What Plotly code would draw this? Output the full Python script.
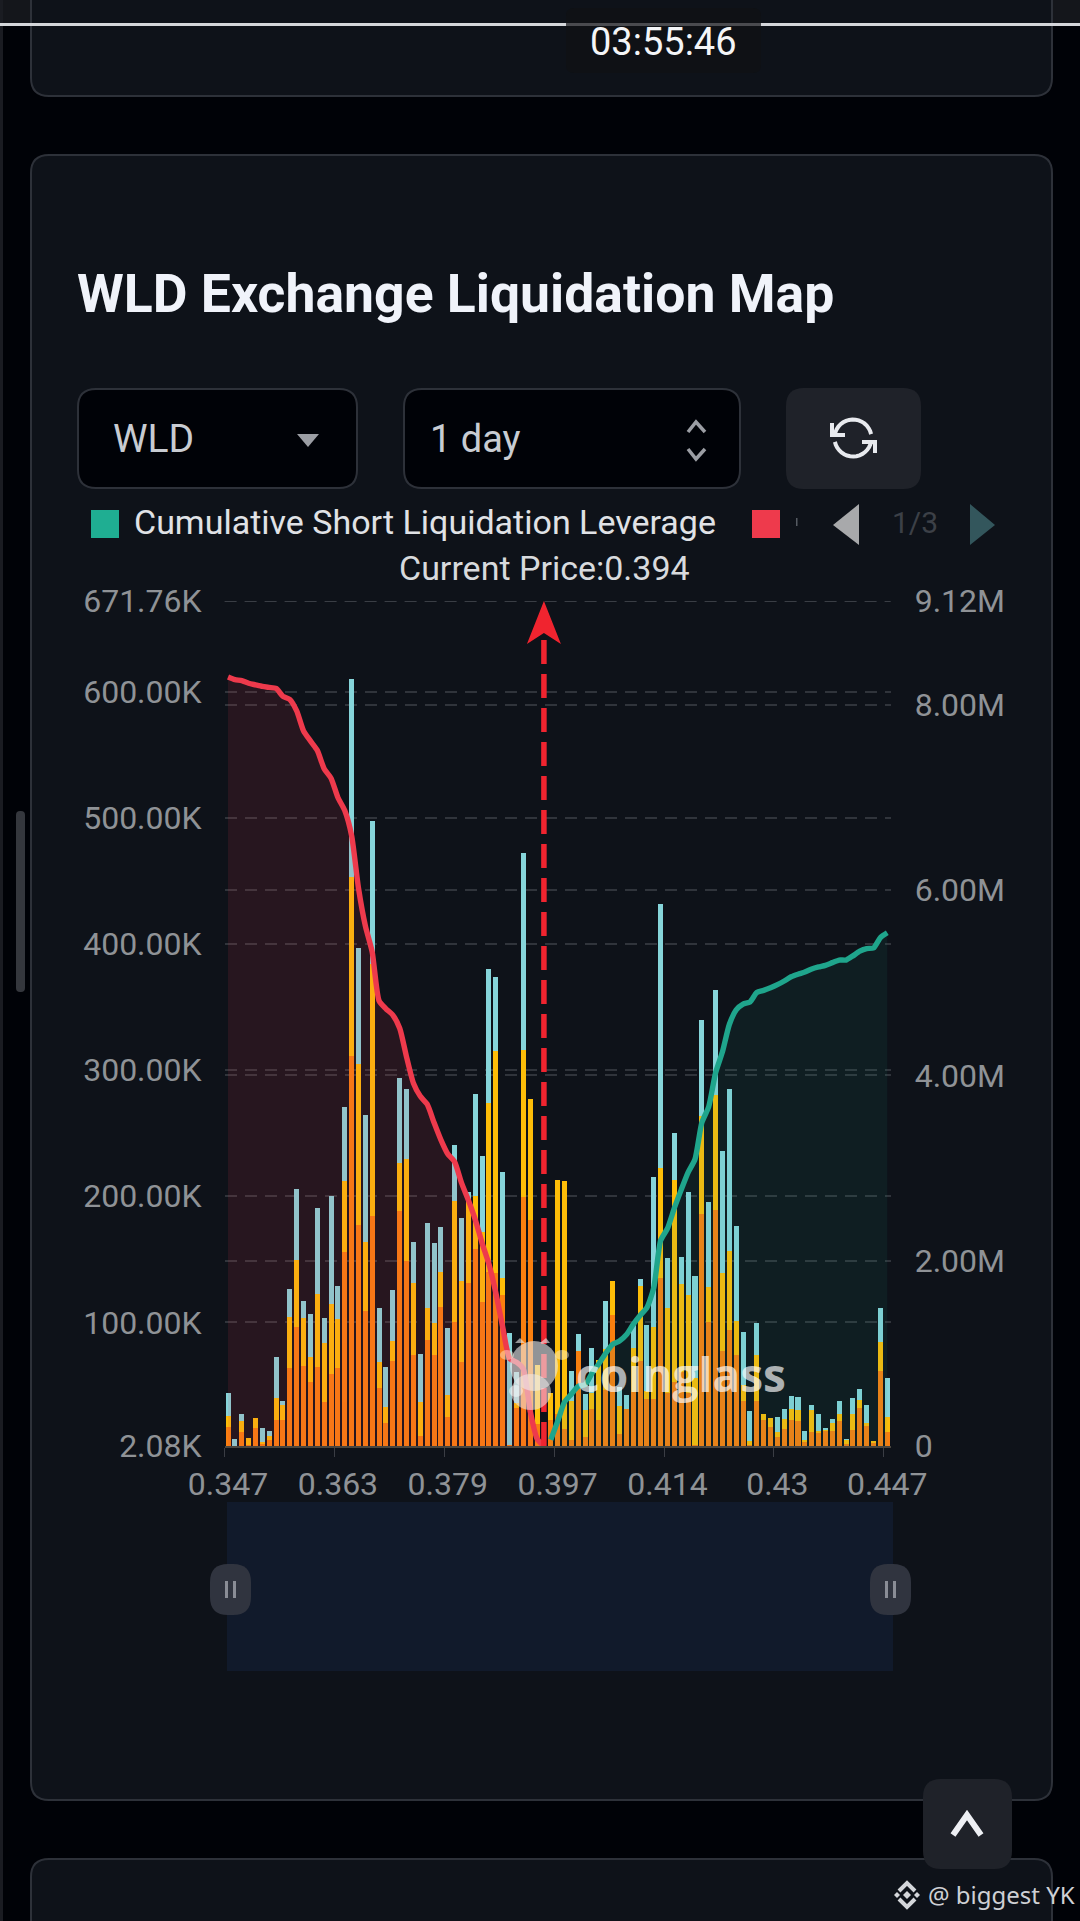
"""WLD Exchange Liquidation Map - phone screenshot rebuilt with plotly."""
import math

import plotly.graph_objects as go

W, H = 1080, 1921

# price bins (bottom axis)
prices = [
    "0.347", "0.348", "0.349", "0.35", "0.351", "0.352", "0.353", "0.354", "0.355", "0.356",
    "0.357", "0.358", "0.359", "0.36", "0.361", "0.362", "0.363", "0.364", "0.365", "0.366",
    "0.367", "0.368", "0.369", "0.37", "0.371", "0.372", "0.373", "0.374", "0.375", "0.376",
    "0.377", "0.378", "0.379", "0.38", "0.381", "0.382", "0.384", "0.385", "0.386", "0.387",
    "0.388", "0.389", "0.39", "0.391", "0.392", "0.393", "0.394", "0.395", "0.397", "0.398",
    "0.399", "0.4", "0.401", "0.402", "0.403", "0.404", "0.405", "0.406", "0.408", "0.409",
    "0.41", "0.411", "0.412", "0.413", "0.414", "0.415", "0.416", "0.417", "0.418", "0.419",
    "0.42", "0.421", "0.422", "0.423", "0.424", "0.425", "0.426", "0.427", "0.428", "0.429",
    "0.43", "0.431", "0.432", "0.433", "0.434", "0.435", "0.436", "0.437", "0.438", "0.439",
    "0.44", "0.442", "0.443", "0.444", "0.445", "0.446", "0.447",
]
current_price = "0.394"

# stacked liquidation bars, thousands
orange_k = [
    17.4, 2.1, 13.3, 2.9, 16.6, 3.7, 7.0, 22.4, 22.4, 63.8, 96.1, 65.4, 53.0, 65.0, 37.3, 58.8,
    63.8, 156.1, 311.3, 177.6, 108.9, 184.2, 48.0, 20.7, 69.6, 188.0, 148.6, 74.5, 10.0, 86.1,
    74.5, 112.2, 25.3, 100.6, 68.7, 131.2, 158.2, 115.9, 140.0, 139.5, 122.1, 2.9, 31.9, 199.6,
    181.3, 19.5, 7.0, 22.8, 27.7, 15.3, 7.0, 77.4, 9.1, 31.1, 22.8, 46.4, 106.0, 11.2, 31.1,
    45.1, 69.2, 39.3, 39.3, 135.4, 44.3, 52.6, 60.9, 44.3, 2.9, 186.3, 100.2, 188.8, 77.4, 94.0,
    74.1, 38.1, 2.9, 38.1, 22.4, 17.4, 9.5, 15.3, 22.4, 22.0, 5.8, 12.8, 12.8, 14.1, 14.1, 22.0,
    3.7, 14.9, 31.9, 18.2, 4.1, 61.7, 13.3,
]
yellow_k = [
    8.3, 0, 8.3, 5.4, 7.5, 1.2, 3.3, 17.8, 12.4, 40.2, 53.0, 38.1, 19.9, 57.5, 46.4, 55.5,
    38.9, 55.9, 142.0, 127.1, 55.1, 199.5, 20.7, 12.4, 15.7, 38.1, 80.7, 57.1, 26.9, 25.3,
    25.3, 27.7, 17.0, 95.6, 63.8, 64.2, 42.2, 55.9, 134.1, 175.5, 13.2, 0, 4.1, 116.3,
    96.0, 46.4, 0, 21.5, 185.5, 196.6, 31.1, 0, 21.9, 13.2, 47.2, 32.3, 26.9, 22.8, 0,
    34.4, 59.6, 6.6, 57.1, 87.4, 67.5, 160.6, 69.6, 77.4, 53.0, 77.0, 28.2, 91.5, 61.7, 62.9,
    27.3, 12.4, 2.9, 36.4, 5.0, 7.0, 3.7, 7.9, 9.1, 8.7, 1.2, 17.8, 1.2, 0.4, 6.6, 5.8,
    3.3, 12.4, 6.6, 2.5, 1.7, 23.2, 11.6,
]
teal_k = [
    18.6, 5.8, 5.8, 0, 0, 11.6, 3.7, 32.3, 2.9, 22.8, 56.3, 13.2, 33.5, 68.3, 19.5, 85.7,
    26.5, 58.8, 156.5, 91.9, 100.6, 113.9, 42.6, 31.5, 40.2, 67.5, 55.5, 32.3, 38.1, 67.5,
    63.3, 36.0, 53.0, 44.3, 50.5, 8.3, 80.3, 60.4, 106.0, 58.8, 83.6, 89.0, 24.8, 156.5,
    0, 0, 0, 0, 0, 0, 23.6, 13.2, 12.0, 35.6, 0, 38.1, 0, 14.5, 11.2,
    20.3, 5.8, 52.2, 119.2, 208.7, 38.9, 36.8, 21.5, 82.0, 81.1, 76.2, 66.7, 83.2, 96.9, 127.9,
    75.3, 42.2, 24.0, 24.8, 0, 0, 11.6, 8.3, 9.9, 9.9, 7.0, 4.1, 13.7, 2.1, 2.9, 9.9,
    0.4, 13.2, 9.1, 13.7, 0, 26.5, 31.1,
]

# cumulative lines, millions
long_cum_m = [
    8.300, 8.272, 8.261, 8.232, 8.215, 8.198, 8.187, 8.176, 8.091, 8.057, 7.933, 7.717,
    7.610, 7.508, 7.310, 7.208, 6.999, 6.858, 6.586, 6.020, 5.613, 5.330, 4.804, 4.719,
    4.651, 4.509, 4.198, 3.915, 3.774, 3.689, 3.491, 3.304, 3.151, 3.067, 2.840, 2.654,
    2.444, 2.190, 1.963, 1.652, 1.284, 0.945, 0.905, 0.832, 0.379, 0.079, 0.0,
]
short_cum_m = [
    0.068, 0.266, 0.475, 0.560, 0.645, 0.662, 0.786, 0.888, 1.001, 1.098, 1.132, 1.200,
    1.313, 1.409, 1.494, 1.709, 2.218, 2.348, 2.569, 2.767, 2.953, 3.095, 3.491, 3.661,
    4.028, 4.255, 4.549, 4.707, 4.770, 4.792, 4.894, 4.917, 4.945, 4.979, 5.019, 5.064,
    5.092, 5.115, 5.149, 5.171, 5.188, 5.217, 5.245, 5.245, 5.290, 5.341, 5.369, 5.375,
    5.488, 5.539,
]

left_vals = [2.08, 100, 200, 300, 400, 500, 600, 671.76]
left_text = ["2.08K", "100.00K", "200.00K", "300.00K", "400.00K", "500.00K", "600.00K", "671.76K"]
right_vals = [0, 2, 4, 6, 8, 9.12]
right_text = ["0", "2.00M", "4.00M", "6.00M", "8.00M", "9.12M"]

ORANGE, YELLOW, TEAL = "#f97f0f", "#fdbd08", "#86d5da"
RED, GREEN = "#ee3a4c", "#1fa58c"
PAGE, CARD, EDGE, BTN = "#000207", "#0e1219", "#2d3139", "#1f2229"
GRID = "#30343b"
AXIS_FONT = "Roboto"


def px(x):
    return x / W


def py(y):
    return 1 - y / H


def rrect(x0, y0, x1, y1, r, fill, line=None, layer="below", width=2):
    p = (f"M{px(x0+r)},{py(y0)} L{px(x1-r)},{py(y0)} Q{px(x1)},{py(y0)} {px(x1)},{py(y0+r)} "
         f"L{px(x1)},{py(y1-r)} Q{px(x1)},{py(y1)} {px(x1-r)},{py(y1)} L{px(x0+r)},{py(y1)} "
         f"Q{px(x0)},{py(y1)} {px(x0)},{py(y1-r)} L{px(x0)},{py(y0+r)} Q{px(x0)},{py(y0)} {px(x0+r)},{py(y0)} Z")
    return dict(type="path", xref="paper", yref="paper", path=p, fillcolor=fill, layer=layer,
                line=dict(color=line or fill, width=width if line else 0))


def poly(points, fill=None, line=None, width=0, close=True, layer="above"):
    p = "M" + " L".join(f"{px(a)},{py(b)}" for a, b in points) + (" Z" if close else "")
    return dict(type="path", xref="paper", yref="paper", path=p, layer=layer,
                fillcolor=fill or "rgba(0,0,0,0)",
                line=dict(color=line or "rgba(0,0,0,0)", width=width))


def ell(cx, cy, rx, ry, fill, layer="above"):
    return dict(type="circle", xref="paper", yref="paper", x0=px(cx-rx), x1=px(cx+rx), y0=py(cy+ry),
                y1=py(cy-ry), fillcolor=fill, line_width=0, layer=layer)


def box(x0, y0, x1, y1, fill, layer="below"):
    return dict(type="rect", xref="paper", yref="paper", x0=px(x0), x1=px(x1), y0=py(y1), y1=py(y0),
                fillcolor=fill, line_width=0, layer=layer)


def arc(cx, cy, r, a0, a1, n=16):
    return [(cx + r*math.cos(math.radians(a0+(a1-a0)*i/n)), cy - r*math.sin(math.radians(a0+(a1-a0)*i/n)))
            for i in range(n+1)]


def label(text, x, y, size, color, anchor="left", font="Roboto", **kw):
    return dict(text=text, x=px(x), y=py(y), xref="paper", yref="paper", showarrow=False,
                xanchor=anchor, yanchor="middle", font=dict(size=size, color=color, family=font), **kw)


fig = go.Figure()
fig.add_bar(x=prices, y=orange_k, name="orange tier", marker_color=ORANGE, marker_line_width=0)
fig.add_bar(x=prices, y=yellow_k, name="yellow tier", marker_color=YELLOW, marker_line_width=0)
fig.add_bar(x=prices, y=teal_k, name="teal tier", marker_color=TEAL, marker_line_width=0)

fig.add_scatter(x=prices[:len(long_cum_m)], y=long_cum_m, yaxis="y2", mode="lines",
                name="Cumulative Long Liquidation Leverage", fill="tozeroy",
                fillcolor="rgba(238,58,76,0.115)", line=dict(color=RED, width=5.4, shape="spline", smoothing=0.6))
fig.add_scatter(x=prices[len(long_cum_m):], y=short_cum_m, yaxis="y2", mode="lines",
                name="Cumulative Short Liquidation Leverage", fill="tozeroy",
                fillcolor="rgba(31,165,140,0.085)", line=dict(color=GREEN, width=5.4, shape="spline", smoothing=0.6))

# current price marker line, the head is a pixel shape anchored on the same price
fig.add_scatter(x=[current_price, current_price], y=[0, 8.7], yaxis="y2", mode="lines",
                line=dict(color="#f0242f", width=5.5, dash="24px,10px"), name="Current Price")

shapes = [
    box(0, 0, W, 23, "#14161b"),
    box(0, 0, 3, H, "#1a1c22"),
    rrect(31, -60, 1052, 96, 18, CARD, EDGE),
    rrect(31, 155, 1052, 1800, 18, CARD, EDGE),
    rrect(31, 1859, 1052, H + 60, 18, CARD, EDGE),
    box(0, 23, W, 26, "#d4d6da"),
    rrect(566, 8, 761, 73, 8, "#0f1115"),
    box(566, 23, 761, 26, "#4a4b4f"),
    rrect(16, 811, 25, 992, 4, "#34373d"),
    # select boxes
    rrect(78, 389, 357, 488, 18, PAGE, EDGE),
    rrect(404, 389, 740, 488, 18, PAGE, EDGE),
    rrect(786, 388, 921, 489, 18, BTN),
    poly([(297, 434), (319, 434), (308, 447)], fill="#9b9ea4", layer="below"),
    poly([(688, 432), (696, 422), (705, 432)], line="#9b9ea4", width=3.5, close=False, layer="below"),
    poly([(688, 449), (696, 459), (705, 449)], line="#9b9ea4", width=3.5, close=False, layer="below"),
    # refresh icon
    poly(arc(853, 438, 18.5, 12, 172), line="#e8eaee", width=4, close=False, layer="below"),
    poly(arc(853, 438, 18.5, 192, 350), line="#e8eaee", width=4, close=False, layer="below"),
    poly([(832, 423), (832, 435), (845, 435)], line="#e8eaee", width=4, close=False, layer="below"),
    poly([(875, 453), (875, 442), (862, 442)], line="#e8eaee", width=4, close=False, layer="below"),
    # legend
    box(91, 510, 119, 538, "#1fae92"),
    box(752, 510, 780, 538, "#ee3a4c"),
    box(796, 518, 797.5, 526, "#555a62"),
    poly([(859, 504), (859, 545), (833, 525)], fill="#a8a9ab", layer="below"),
    poly([(970, 504), (970, 545), (995, 525)], fill="#33565c", layer="below"),
    # top grid line sits on the axis edge, plotly skips it
    dict(type="line", xref="x domain", yref="y", x0=0, x1=1, y0=left_vals[-1], y1=left_vals[-1],
         line=dict(color="#3a3e45", width=2, dash="12px,8px"), layer="below"),
    # arrow head on the current price line
    dict(type="path", xref="x", yref="y2", xsizemode="pixel", ysizemode="pixel",
         xanchor=prices.index(current_price), yanchor=right_vals[-1],
         path="M0,0 L17,-43 L0,-32 L-17,-43 Z", fillcolor="#f0242f", line_width=0, layer="above"),
    # zoom slider
    box(227, 1502, 893, 1671, "#111a2b"),
    rrect(210, 1564, 251, 1615, 18, "#30343f"),
    rrect(870, 1564, 911, 1615, 18, "#30343f"),
    box(225, 1581, 228, 1598, "#8a8d96"),
    box(233, 1581, 236, 1598, "#8a8d96"),
    box(885, 1581, 888, 1598, "#8a8d96"),
    box(893, 1581, 896, 1598, "#8a8d96"),
    # back to top
    rrect(923, 1779, 1012, 1869, 18, BTN, layer="above"),
    poly([(953, 1835), (967, 1815), (981, 1835)], line="#eef0f4", width=6, close=False),
    # hamster watermark
    ell(534, 1366, 24, 25, "rgba(235,235,235,0.6)"),
    ell(531, 1392, 20, 18, "rgba(240,235,235,0.55)"),
    ell(507, 1355, 7, 5, "rgba(255,245,220,0.45)"),
    ell(562, 1355, 7, 5, "rgba(255,245,220,0.45)"),
    ell(516, 1391, 7, 6, "rgba(255,255,255,0.45)"),
    poly([(515, 1343), (520, 1338), (525, 1343)], fill="rgba(235,235,235,0.6)"),
    poly([(540, 1343), (546, 1338), (550, 1343)], fill="rgba(235,235,235,0.6)"),
    # binance mark
    poly([(899, 1891), (907, 1883), (915, 1891)], line="#d4d6da", width=4, close=False),
    poly([(899, 1899), (907, 1907), (915, 1899)], line="#d4d6da", width=4, close=False),
    poly([(907, 1891), (911, 1895), (907, 1899), (903, 1895)], fill="#d4d6da"),
    poly([(897, 1892), (900, 1895), (897, 1898), (894, 1895)], fill="#d4d6da"),
    poly([(917, 1892), (920, 1895), (917, 1898), (914, 1895)], fill="#d4d6da"),
]

annotations = [
    label("03:55:46", 663, 42, 38, "#f4f5f7", "center"),
    label("<b>WLD Exchange Liquidation Map</b>", 75, 294, 53.5, "#f0f3fa"),
    label("WLD", 111, 439, 39, "#c8ccd2"),
    label("1 day", 428, 439, 38, "#c8ccd2"),
    label("Cumulative Short Liquidation Leverage", 132, 522, 34, "#e0e2e6"),
    label("1/3", 915, 522, 30, "#3c4047", "center"),
    label("Current Price:0.394", 544, 568, 34, "#d8dadd", "center"),
    label("<b>coinglass</b>", 681, 1374, 46, "rgba(255,255,255,0.66)", "center", font="Open Sans"),
    label("@ biggest YK", 926, 1894, 24, "#ced0d4", font="Noto Sans"),
]

tick_font = dict(family=AXIS_FONT, size=32, color="#8f9296")
grid = dict(showgrid=True, gridcolor=GRID, griddash="12px,8px", gridwidth=2, zeroline=False,
            showline=False, automargin=False)

fig.update_layout(
    width=W, height=H, autosize=False, showlegend=False,
    paper_bgcolor=PAGE, plot_bgcolor="rgba(0,0,0,0)",
    margin=dict(l=0, r=0, t=0, b=0, pad=0),
    barmode="stack", bargap=0.27,
    shapes=shapes, annotations=annotations,
    xaxis=dict(type="category", categoryorder="array", categoryarray=prices, automargin=False,
               domain=[px(224.6), px(890.7)], range=[-0.5, 96.5], tickangle=0,
               tickmode="linear", tick0=0, dtick=16, tickson="boundaries",
               ticks="outside", ticklen=9, tickcolor="#3a3d44", showline=True, linecolor="#4a4640", linewidth=2,
               showgrid=False, tickfont=tick_font, ticklabelstandoff=9),
    yaxis=dict(domain=[py(1446), py(601)], range=[2.08, 671.76], tickmode="array", tickvals=left_vals,
               ticktext=left_text, tickfont=tick_font, ticklabelstandoff=22, **grid),
    yaxis2=dict(overlaying="y", side="right", range=[0, 9.12], tickmode="array", tickvals=right_vals,
                ticktext=right_text, tickfont=tick_font, ticklabelstandoff=23, **grid),
)

# page default margin would shift the picture by 8px
fig.write_html("out.html", config={"displayModeBar": False},
               post_script="document.body.style.margin='0';document.body.style.background='#000207';")
